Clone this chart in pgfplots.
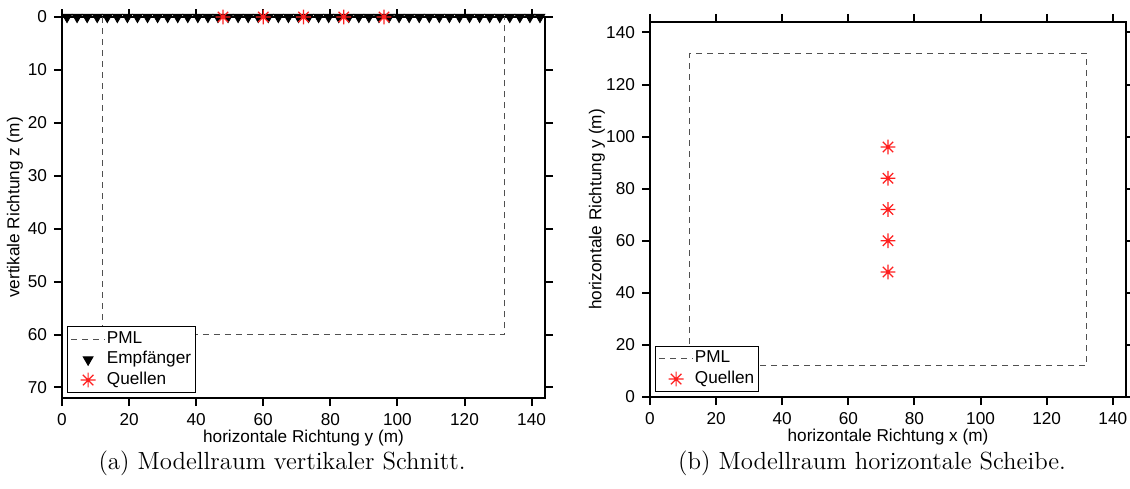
\documentclass[border=0pt]{standalone}
\usepackage{fontspec}
\usepackage{pgfplots}
\pgfplotsset{compat=1.18}
\newfontfamily\arial{Liberation Sans}

% eight-armed asterisk for the sources
\pgfdeclareplotmark{star8}{%
  \pgfpathmoveto{\pgfqpoint{\pgfplotmarksize}{0pt}}%
  \pgfpathlineto{\pgfqpoint{-\pgfplotmarksize}{0pt}}%
  \pgfpathmoveto{\pgfqpoint{0pt}{\pgfplotmarksize}}%
  \pgfpathlineto{\pgfqpoint{0pt}{-\pgfplotmarksize}}%
  \pgfpathmoveto{\pgfqpoint{0.7071\pgfplotmarksize}{0.7071\pgfplotmarksize}}%
  \pgfpathlineto{\pgfqpoint{-0.7071\pgfplotmarksize}{-0.7071\pgfplotmarksize}}%
  \pgfpathmoveto{\pgfqpoint{-0.7071\pgfplotmarksize}{0.7071\pgfplotmarksize}}%
  \pgfpathlineto{\pgfqpoint{0.7071\pgfplotmarksize}{-0.7071\pgfplotmarksize}}%
  \pgfusepathqstroke}

\definecolor{pmlgray}{HTML}{505050}
\definecolor{srcred}{HTML}{FF2020}

\pgfplotsset{
  model/.style={
    scale only axis,
    axis line style={line width=1pt},
    tick align=outside,
    major tick length=4pt,
    every tick/.style={black,line width=1pt},
    tick label style={font=\arial\fontsize{8.6}{10}\selectfont},
    /pgf/number format/assume math mode=true,
    label style={font=\arial\fontsize{8.6}{10}\selectfont},
    xlabel style={at={(axis description cs:0.5,0)},anchor=center,yshift=-20pt},
    legend cell align=left,
    legend style={font=\arial\fontsize{8.6}{10}\selectfont,
      draw=black, line width=0.5pt,
      at={(axis description cs:0,0)}, anchor=south west,
      xshift=2.5pt, yshift=2.5pt,
      inner sep=1.5pt, row sep=0.8pt,
      nodes={inner sep=0.6pt,text height=6.3pt,text depth=1.95pt}},
  },
  pml/.style={pmlgray, line width=0.55pt, dash pattern=on 3pt off 2.5pt, mark=none},
  src/.style={only marks, mark=star8, mark size=3.7pt,
    mark options={srcred, line width=0.6pt}},
  rcv/.style={only marks, mark=triangle*, mark size=2.8pt,
    mark options={black, fill=black, rotate=180}},
}

\begin{document}
\begin{tikzpicture}
\path[use as bounding box] (-31pt,-45pt) rectangle (534pt,199pt);

% (a) vertical section
\begin{axis}[model,
  at={(0pt,0pt)}, anchor=south west,
  width=241.5pt, height=190.5pt,
  xmin=0, xmax=144, ymin=0, ymax=72, y dir=reverse,
  xtick={0,20,...,140}, ytick={0,10,...,70},
  xlabel={horizontale Richtung y (m)},
  ylabel={vertikale Richtung z (m)},
  ylabel style={at={(axis description cs:0,0.5)},anchor=center,yshift=23.5pt},
]
\addplot[pml] coordinates {(12,0) (12,60) (132,60) (132,0)};
\addlegendentry{PML}
\addplot[rcv] coordinates {
  (1.5,0) (4.5,0) (7.5,0) (10.5,0) (13.5,0) (16.5,0) (19.5,0) (22.5,0)
  (25.5,0) (28.5,0) (31.5,0) (34.5,0) (37.5,0) (40.5,0) (43.5,0) (46.5,0)
  (49.5,0) (52.5,0) (55.5,0) (58.5,0) (61.5,0) (64.5,0) (67.5,0) (70.5,0)
  (73.5,0) (76.5,0) (79.5,0) (82.5,0) (85.5,0) (88.5,0) (91.5,0) (94.5,0)
  (97.5,0) (100.5,0) (103.5,0) (106.5,0) (109.5,0) (112.5,0) (115.5,0) (118.5,0)
  (121.5,0) (124.5,0) (127.5,0) (130.5,0) (133.5,0) (136.5,0) (139.5,0) (142.5,0)};
\addlegendentry{Empfänger}
\addplot[src] coordinates {(48,0) (60,0) (72,0) (84,0) (96,0)};
\addlegendentry{Quellen}
\end{axis}

% (b) horizontal slice
\begin{axis}[model,
  at={(294pt,0.5pt)}, anchor=south west,
  width=238pt, height=187.5pt,
  xmin=0, xmax=144, ymin=0, ymax=144,
  xtick={0,20,...,140}, ytick={0,20,...,140},
  xlabel={horizontale Richtung x (m)},
  ylabel={horizontale Richtung y (m)},
  ylabel style={at={(axis description cs:0,0.5)},anchor=center,yshift=26.5pt},
]
\addplot[pml] coordinates {(12,12) (12,132) (132,132) (132,12) (12,12)};
\addlegendentry{PML}
\addplot[src] coordinates {(72,48) (72,60) (72,72) (72,84) (72,96)};
\addlegendentry{Quellen}
\end{axis}

\node[font=\fontsize{12.4}{14}\selectfont] at (110pt,-32.5pt) {(a) Modellraum vertikaler Schnitt.};
\node[font=\fontsize{12.4}{14}\selectfont] at (405pt,-32.5pt) {(b) Modellraum horizontale Scheibe.};
\end{tikzpicture}
\end{document}
